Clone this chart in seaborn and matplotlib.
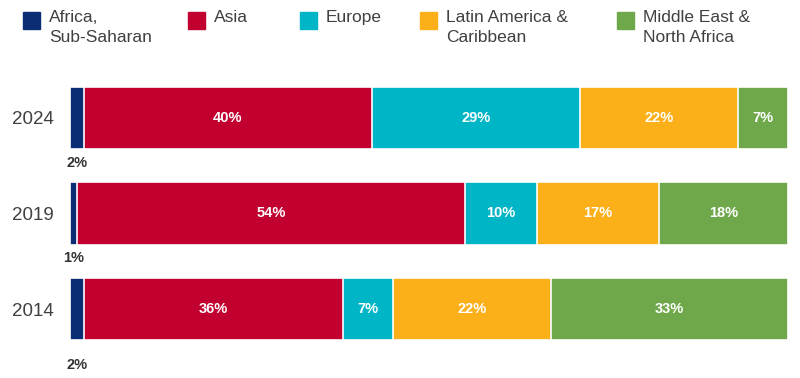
import seaborn as sns
import matplotlib.pyplot as plt
import pandas as pd
from matplotlib.patches import Rectangle

years = ['2024', '2019', '2014']
regions = ['Africa,\nSub-Saharan', 'Asia', 'Europe', 'Latin America &\nCaribbean', 'Middle East &\nNorth Africa']
africa = [2, 1, 2]
asia = [40, 54, 36]
europe = [29, 10, 7]
latam = [22, 17, 22]
mena = [7, 18, 33]
colors = ['#0a2d74', '#c2002f', '#00b5c6', '#fbb01a', '#6fa84b']

sns.set_style('white')
plt.rcParams['font.family'] = ['Liberation Sans', 'DejaVu Sans']

series = [africa, asia, europe, latam, mena]
df = pd.DataFrame({'year': years})
cum = [0, 0, 0]
for name, vals in zip(regions, series):
    df[name + '_left'] = cum
    cum = [c + v for c, v in zip(cum, vals)]
    df[name + '_right'] = cum

fig = plt.figure(figsize=(8, 3.78), dpi=100)
ax = fig.add_axes([70 / 800, 1 - 357 / 378, 718 / 800, 287 / 378])

# stacked by drawing cumulative totals from the outside in
for name, col in reversed(list(zip(regions, colors))):
    sns.barplot(data=df, y='year', x=name + '_right', color=col, orient='h',
                width=0.65, edgecolor='white', linewidth=1.2, ax=ax, saturation=1)

ax.set_xlim(0, 100)
ax.set_ylim(2.5, -0.5)
ax.set_xlabel('')
ax.set_ylabel('')
ax.set_xticks([])
ax.tick_params(axis='y', length=0, pad=11.5, labelsize=13.5, labelcolor='#404040')
sns.despine(ax=ax, left=True, bottom=True)

# value labels
below = [0.47, 0.46, 0.58]
for i in range(len(years)):
    for j, (name, vals) in enumerate(zip(regions, series)):
        v = vals[i]
        left = df.loc[i, name + '_left']
        if j == 0:
            ax.text(left + v / 2, i + below[i], f'{v}%', ha='center', va='center',
                    fontsize=10.5, fontweight='bold', color='#333333')
        else:
            ax.text(left + v / 2, i, f'{v}%', ha='center', va='center',
                    fontsize=10.5, fontweight='bold', color='white')

# legend across the top
leg_x = [23, 188, 300, 420, 617]
for x, name, col in zip(leg_x, regions, colors):
    fig.patches.append(Rectangle((x / 800, 1 - 29 / 378), 17 / 800, 17 / 378,
                                 transform=fig.transFigure, color=col))
    fig.text((x + 26) / 800, 1 - 10 / 378, name, ha='left', va='top',
             fontsize=12.5, color='#404040', linespacing=1.45)

fig.savefig('out.png', dpi=100)
